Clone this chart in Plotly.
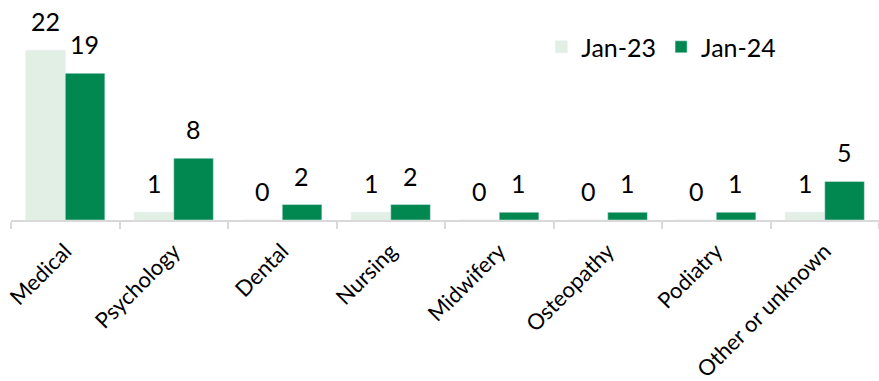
import plotly.graph_objects as go

categories = ["Medical", "Psychology", "Dental", "Nursing", "Midwifery", "Osteopathy", "Podiatry", "Other or unknown"]
jan23 = [22, 1, 0, 1, 0, 0, 0, 1]
jan24 = [19, 8, 2, 2, 1, 1, 1, 5]

FONT = "Lato, 'Open Sans', sans-serif"

fig = go.Figure()
fig.add_trace(go.Bar(name="Jan-23", x=categories, y=jan23, marker_color="#E2EFE5", cliponaxis=False))
fig.add_trace(go.Bar(name="Jan-24", x=categories, y=jan24, marker_color="#008850", cliponaxis=False))

for series, shift in ((jan23, -19.7), (jan24, 19.7)):
    for c, v in zip(categories, series):
        fig.add_annotation(x=c, y=v, text=str(v), showarrow=False, xshift=shift, yshift=12,
                           yanchor="bottom", font=dict(size=25, family=FONT, color="#000000"))

fig.update_layout(
    width=879, height=381,
    margin=dict(l=11, r=0, t=27, b=161, autoexpand=False),
    barmode="group", bargap=0.27, bargroupgap=0,
    plot_bgcolor="white", paper_bgcolor="white",
    font=dict(family=FONT, size=22, color="#000000"),
    legend=dict(orientation="h", x=0.611, y=0.896, xanchor="left", yanchor="middle",
                font=dict(size=25, family=FONT), itemwidth=30, traceorder="normal",
                bgcolor="rgba(0,0,0,0)"),
    showlegend=True,
)
fig.update_xaxes(showline=True, linecolor="#D9D9D9", linewidth=1.5, ticks="outside",
                 tickson="boundaries", tickcolor="#D9D9D9", ticklen=7, tickwidth=1.5,
                 tickangle=-45, tickfont=dict(size=22, family=FONT), showgrid=False,
                 automargin=False, ticklabelstandoff=8)
fig.update_yaxes(range=[0, 25], visible=False, showgrid=False, automargin=False)

fig.write_html("out.html")
